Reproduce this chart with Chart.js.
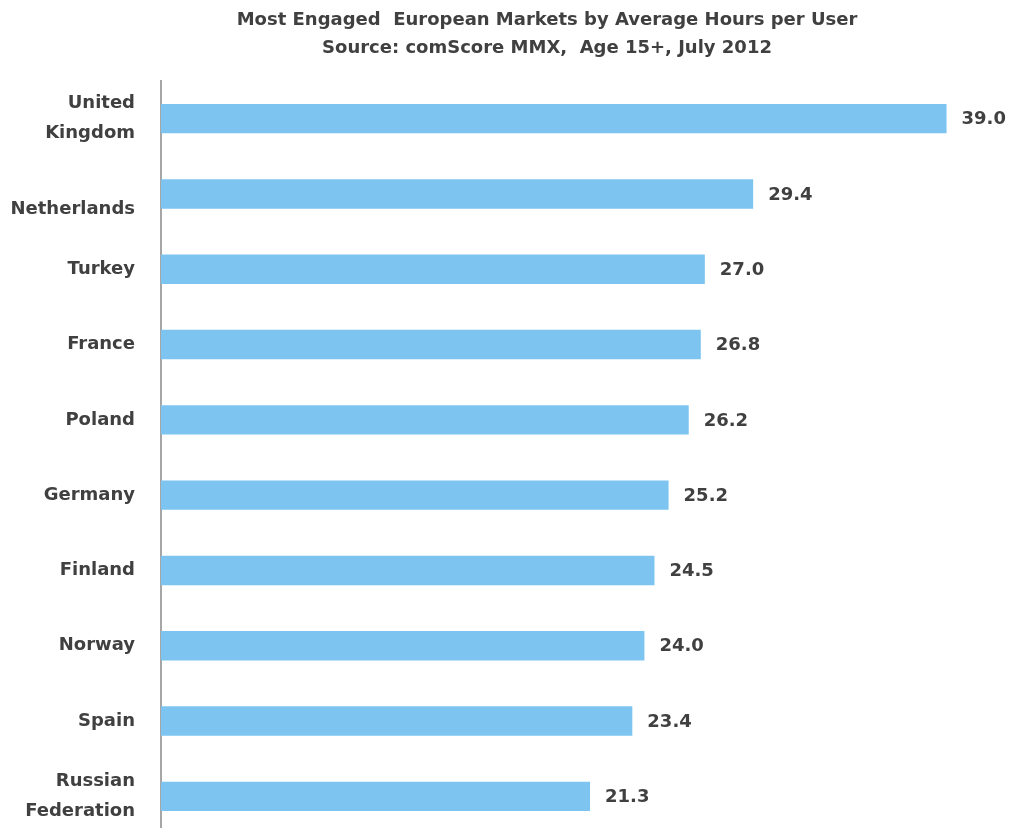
<!DOCTYPE html>
<html>
<head>
<meta charset="utf-8">
<script src="https://cdn.jsdelivr.net/npm/chart.js@4/dist/chart.umd.min.js"></script>
<style>
  html, body { margin: 0; padding: 0; background: #fff; overflow: hidden; }
  #wrap { width: 1011px; height: 834px; }
</style>
</head>
<body>
<div id="wrap"><canvas id="mycanvas"></canvas></div>
<script>
// Netherlands wraps onto a second line in the original, so it sits a line lower
var markets = [
  ['United', 'Kingdom'], ['', 'Netherlands'], 'Turkey', 'France', 'Poland',
  'Germany', 'Finland', 'Norway', 'Spain', ['Russian', 'Federation']
];
var avgHours = [39.0, 29.4, 27.0, 26.8, 26.2, 25.2, 24.5, 24.0, 23.4, 21.3];
var titleLines = [
  'Most Engaged  European Markets by Average Hours per User',
  'Source: comScore MMX,  Age 15+, July 2012'
];

var textColor = '#404040';
var fontName = '"DejaVu Sans", sans-serif';

// title (centred over the bars) and value labels at the end of each bar
var chartText = {
  id: 'chartText',
  afterDraw: function(chart) {
    var ctx = chart.ctx;
    var meta = chart.getDatasetMeta(0);
    ctx.save();
    ctx.fillStyle = textColor;
    ctx.textBaseline = 'middle';

    ctx.font = 'bold 18px ' + fontName;
    ctx.textAlign = 'center';
    ctx.fillText(titleLines[0], 547, 20);
    ctx.fillText(titleLines[1], 547, 48);

    ctx.font = 'bold 18px ' + fontName;
    ctx.textAlign = 'left';
    meta.data.forEach(function(bar, i) {
      ctx.fillText(avgHours[i].toFixed(1), bar.x + 15, bar.y + 1);
    });
    ctx.restore();
  }
};

var ctx = document.getElementById('mycanvas');
var dashboard = new Chart(ctx, {
  type: 'bar',
  data: {
    labels: markets,
    datasets: [{
      label: 'Average Hours',
      data: avgHours,
      backgroundColor: '#7DC5F0',
      borderWidth: 0,
      barPercentage: 0.39,
      categoryPercentage: 1
    }]
  },
  options: {
    indexAxis: 'y',
    responsive: true,
    maintainAspectRatio: false,
    animation: false,
    layout: { padding: { left: 0, right: 0, top: 81, bottom: 0 } },
    plugins: {
      legend: { display: false },
      tooltip: { enabled: false },
      title: { display: false }
    },
    scales: {
      x: {
        display: false,
        min: 0,
        max: 42.2
      },
      y: {
        grid: { display: false },
        border: { display: true, color: '#a6a6a6', width: 2 },
        afterFit: function(scale) {
          scale.width = 161;
          scale.paddingTop = 0;
          scale.paddingBottom = 0;
        },
        ticks: {
          color: textColor,
          padding: 18,
          font: { family: fontName, size: 18, weight: 'bold', lineHeight: 1.67 }
        }
      }
    }
  },
  plugins: [chartText]
});
</script>
</body>
</html>
